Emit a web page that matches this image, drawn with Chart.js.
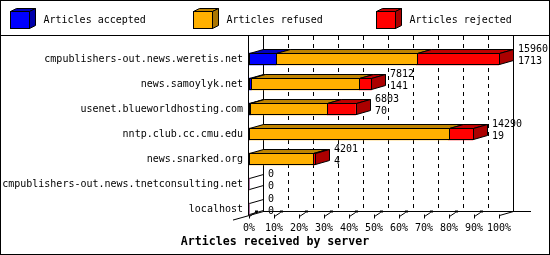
<!DOCTYPE html>
<html>
<head>
<meta charset="utf-8">
<script src="https://cdn.jsdelivr.net/npm/chart.js@4.4.0/dist/chart.umd.min.js"></script>
<style>
  html, body { margin: 0; padding: 0; background: #fff; }
  #wrap { width: 550px; height: 255px; }
</style>
</head>
<body>
<div id="wrap"><canvas id="chart" width="550" height="255"></canvas></div>
<script>
// data
const servers = [
  "cmpublishers-out.news.weretis.net",
  "news.samoylyk.net",
  "usenet.blueworldhosting.com",
  "nntp.club.cc.cmu.edu",
  "news.snarked.org",
  "cmpublishers-out.news.tnetconsulting.net",
  "localhost",
];
const accepted = [1713, 141, 70, 19, 4, 0, 0];
const refused = [8990, 6900, 4930, 12730, 4100, 0, 0];
const rejected = [5257, 771, 1803, 1541, 97, 0, 0];
const totals = [15960, 7812, 6803, 14290, 4201, 0, 0];
const seriesNames = ["Articles accepted", "Articles refused", "Articles rejected"];
const xTicks = [0, 10, 20, 30, 40, 50, 60, 70, 80, 90, 100];
const chartTitle = "Articles received by server";

// looks
const FONT = '"DejaVu Sans Mono", monospace';
const frontColors = ["#0000ff", "#ffb000", "#ff0000"];
const topColors = ["#0000bf", "#bf8400", "#bf0000"];
const sideColors = ["#0000ab", "#ab7600", "#ab0000"];
const DX = 14, DY = 4;       // depth of the 3d effect
const PLOT_TOP = 36;

const maxTotal = Math.max(...totals);
const pct = (arr) => arr.map((v) => (v / maxTotal) * 100);
const series = [accepted, refused, rejected];

function poly(ctx, pts, fill) {
  ctx.beginPath();
  ctx.moveTo(pts[0][0], pts[0][1]);
  for (let i = 1; i < pts.length; i++) ctx.lineTo(pts[i][0], pts[i][1]);
  ctx.closePath();
  if (fill) {
    ctx.fillStyle = fill;
    ctx.fill();
  }
  ctx.stroke();
}

function line(ctx, x1, y1, x2, y2) {
  ctx.beginPath();
  ctx.moveTo(x1, y1);
  ctx.lineTo(x2, y2);
  ctx.stroke();
}

const threeD = {
  id: "threeD",
  beforeDraw(chart) {
    const ctx = chart.ctx;
    ctx.save();
    ctx.fillStyle = "#fff";
    ctx.fillRect(0, 0, chart.width, chart.height);
    ctx.restore();
  },
  beforeDatasetsDraw(chart) {
    const ctx = chart.ctx, xs = chart.scales.x, area = chart.chartArea;
    const left = Math.round(xs.getPixelForValue(0));
    const right = Math.round(xs.getPixelForValue(100));
    const yF = Math.round(area.bottom - 6) + 0.5;
    const yB = yF - DY;
    ctx.save();
    ctx.strokeStyle = "#000";
    ctx.lineWidth = 1;

    // dashed grid on the back wall
    ctx.setLineDash([4, 4]);
    xTicks.forEach((v) => {
      if (v === 0 || v === 100) return;
      const x = Math.round(xs.getPixelForValue(v)) + DX + 0.5;
      line(ctx, x, PLOT_TOP, x, yB);
    });
    ctx.setLineDash([]);

    // walls and floor
    line(ctx, left + DX + 0.5, PLOT_TOP, left + DX + 0.5, yB);
    line(ctx, right + DX + 0.5, PLOT_TOP, right + DX + 0.5, yB);
    line(ctx, left - 0.5, PLOT_TOP, left - 0.5, yF);
    line(ctx, left + DX, yB, right + DX + 18, yB);
    line(ctx, left - 16, yF + (16 * DY) / DX, left + DX + 0.5, yB);
    line(ctx, right + 0.5, yF, right + DX + 0.5, yB);

    // ticks
    ctx.fillStyle = "#000";
    xTicks.forEach((v) => {
      const x = Math.round(xs.getPixelForValue(v)) + 0.5;
      line(ctx, x, yF - 1, x, yF + 3);
      if (v < 100) {
        line(ctx, x, yF + 1, x + 6, yF - 3);
        ctx.fillRect(x + 5.5, yB - 1, 3, 2);
      }
    });
    ctx.restore();
  },
  afterDatasetsDraw(chart) {
    const ctx = chart.ctx;
    const metas = chart.data.datasets.map((d, i) => chart.getDatasetMeta(i));
    ctx.save();
    ctx.strokeStyle = "#000";
    ctx.lineWidth = 1;
    ctx.font = "10px " + FONT;
    ctx.textBaseline = "middle";
    ctx.textAlign = "left";

    servers.forEach((name, i) => {
      const segs = metas.map((m, d) => {
        const p = m.data[i].getProps(["x", "base", "y", "height"], true);
        return {
          d,
          x0: Math.round(Math.min(p.x, p.base)),
          x1: Math.round(Math.max(p.x, p.base)),
          yT: Math.round(p.y - p.height / 2),
          yB: Math.round(p.y + p.height / 2),
        };
      });
      const yT = segs[0].yT + 0.5, yB = segs[0].yB - 0.5;
      const start = segs[0].x0 + 0.5;
      const drawn = segs.filter((s) => s.x1 - s.x0 >= 1);

      if (drawn.length === 0) {
        line(ctx, start, yT, start + DX, yT - DY);
        line(ctx, start, yB, start + DX, yB - DY);
      } else {
        drawn.forEach((s) => {
          const a = s.x0 + 0.5, b = s.x1 + 0.5;
          poly(ctx, [[a, yT], [b, yT], [b + DX, yT - DY], [a + DX, yT - DY]], topColors[s.d]);
          ctx.strokeRect(a, yT, b - a, yB - yT);
        });
        const last = drawn[drawn.length - 1];
        const e = last.x1 + 0.5;
        poly(ctx, [[e, yT], [e + DX, yT - DY], [e + DX, yB - DY], [e, yB]], sideColors[last.d]);
      }

      const end = drawn.length ? drawn[drawn.length - 1].x1 : segs[0].x0;
      ctx.fillStyle = "#000";
      ctx.fillText(String(totals[i]), end + DX + 5, yT - DY);
      ctx.fillText(String(accepted[i]), end + DX + 5, yT - DY + 12);
    });
    ctx.restore();
  },
  afterDraw(chart) {
    const ctx = chart.ctx;
    ctx.save();
    ctx.strokeStyle = "#000";
    ctx.lineWidth = 1;

    // legend
    ctx.font = "10px " + FONT;
    ctx.textBaseline = "middle";
    chart.data.datasets.forEach((ds, i) => {
      const x = 10 + i * 183 + 0.5, y = 11.5, w = 19, h = 17, dx = 6, dy = 3;
      ctx.fillStyle = frontColors[i];
      ctx.fillRect(x, y, w, h);
      ctx.strokeRect(x, y, w, h);
      poly(ctx, [[x, y], [x + dx, y - dy], [x + w + dx, y - dy], [x + w, y]], topColors[i]);
      poly(ctx, [[x + w, y], [x + w + dx, y - dy], [x + w + dx, y + h - dy], [x + w, y + h]], sideColors[i]);
      ctx.fillStyle = "#000";
      ctx.fillText(ds.label, x + 33, 20);
    });

    line(ctx, 0, 35.5, chart.width, 35.5);
    ctx.strokeRect(0.5, 0.5, chart.width - 1, chart.height - 1);
    ctx.restore();
  },
};

new Chart(document.getElementById("chart"), {
  type: "bar",
  data: {
    labels: servers,
    datasets: series.map((arr, i) => ({
      label: seriesNames[i],
      data: pct(arr),
      backgroundColor: frontColors[i],
      borderWidth: 0,
      barThickness: 12,
    })),
  },
  options: {
    indexAxis: "y",
    responsive: false,
    animation: false,
    devicePixelRatio: 1,
    layout: { padding: { top: 46.5, right: 0, bottom: 0, left: 0 } },
    plugins: {
      legend: { display: false },
      tooltip: { enabled: false },
      title: {
        display: true,
        position: "bottom",
        text: chartTitle,
        color: "#000",
        font: { family: FONT, size: 11.6, weight: "bold", lineHeight: 1.2 },
        padding: { top: 0, bottom: 5.6 },
      },
    },
    scales: {
      x: {
        stacked: true,
        min: 0,
        max: 100,
        afterBuildTicks: (s) => {
          s.ticks = xTicks.map((v) => ({ value: v }));
        },
        afterFit: (s) => {
          s.height = 14;
        },
        grid: { display: false, drawTicks: false },
        border: { display: false },
        ticks: {
          padding: 1,
          color: "#000",
          autoSkip: false,
          maxRotation: 0,
          font: { family: FONT, size: 10 },
          callback: (v) => v + "%",
        },
      },
      y: {
        stacked: true,
        afterFit: (s) => {
          s.width = 249;
        },
        grid: { display: false, drawTicks: false },
        border: { display: false },
        ticks: {
          padding: 6,
          color: "#000",
          autoSkip: false,
          font: { family: FONT, size: 10 },
        },
      },
      yRight: {
        type: "category",
        position: "right",
        labels: servers,
        afterFit: (s) => {
          s.width = 51;
        },
        grid: { display: false, drawTicks: false },
        border: { display: false },
        ticks: { display: false },
      },
    },
  },
  plugins: [threeD],
});
</script>
</body>
</html>
